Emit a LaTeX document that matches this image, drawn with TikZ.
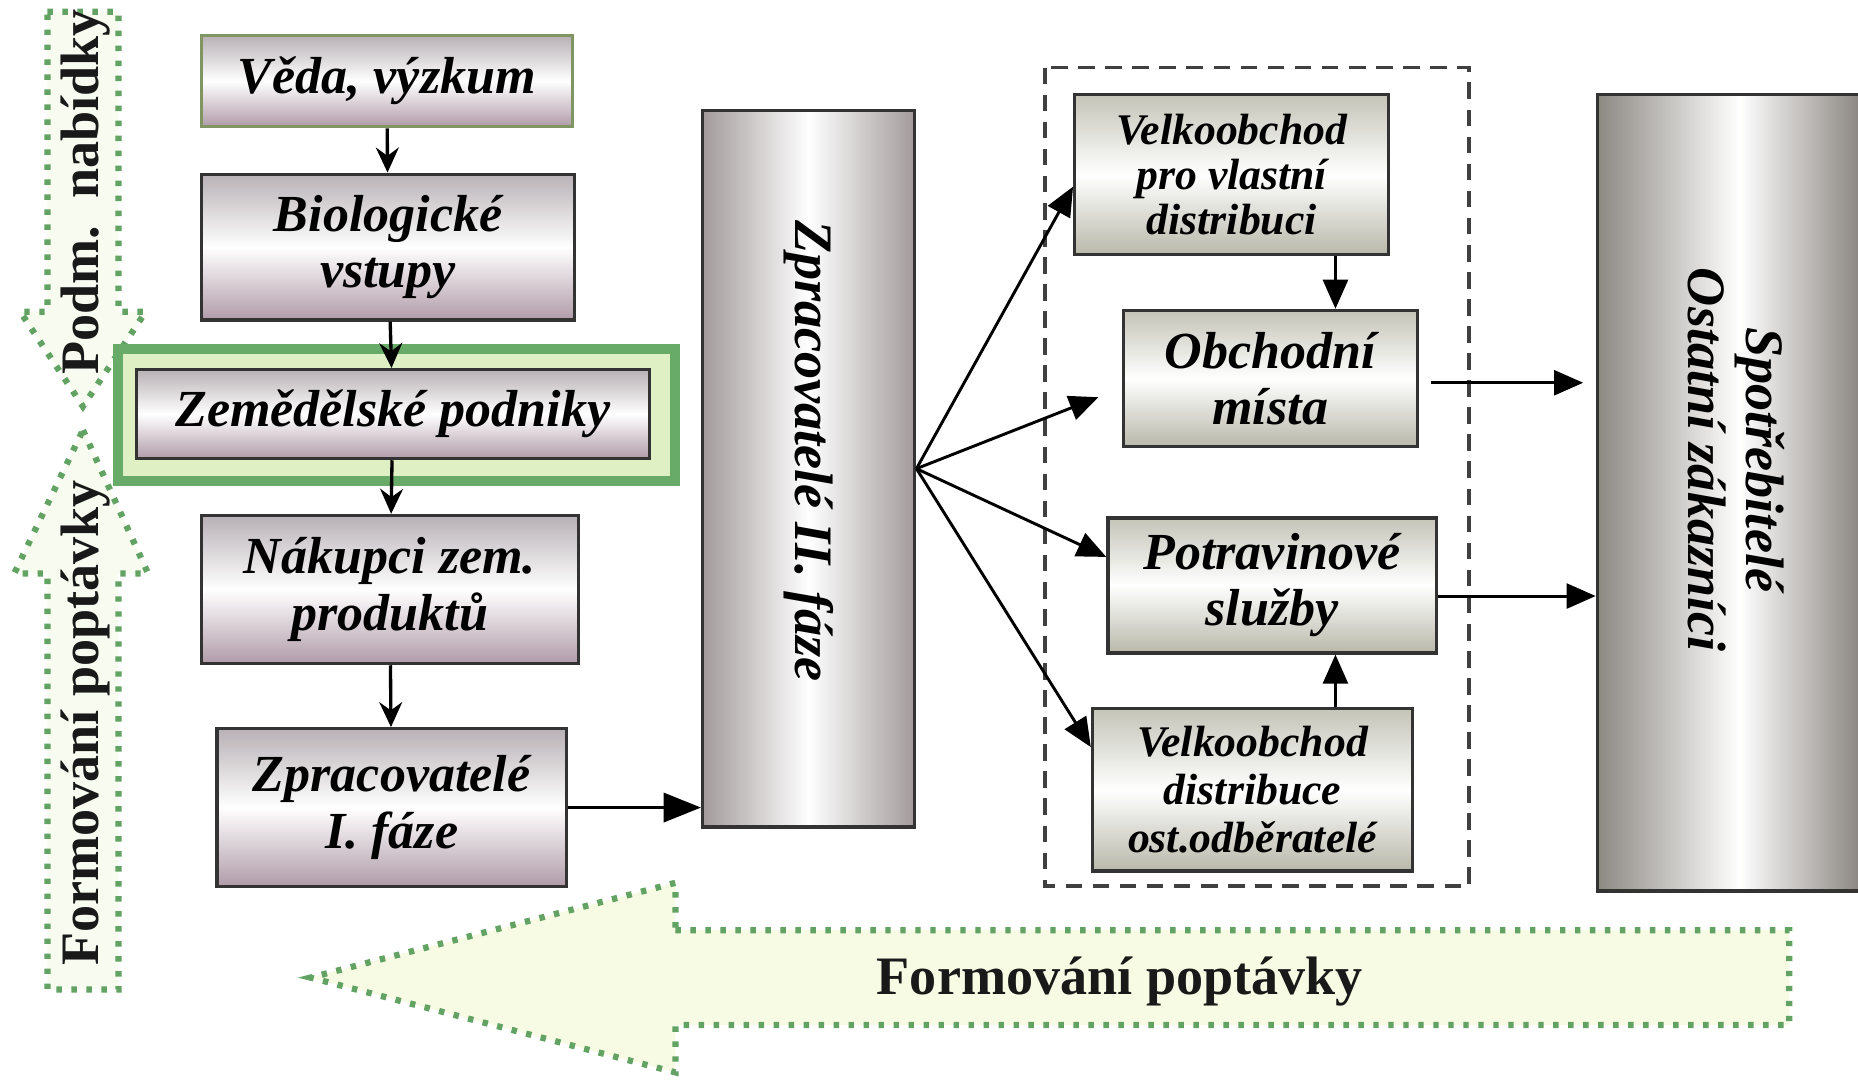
\documentclass[tikz,border=0pt]{standalone}
\usepackage{fontspec}
\setmainfont{Liberation Serif}
\usetikzlibrary{arrows.meta}
\definecolor{dotgreen}{RGB}{98,162,98}
\definecolor{palefill}{RGB}{247,251,228}
\definecolor{sidefill}{RGB}{248,252,240}
\definecolor{framegreen}{RGB}{104,170,104}
\definecolor{framefill}{RGB}{222,240,196}
\definecolor{vedaborder}{RGB}{128,150,98}
\definecolor{lgtop}{RGB}{184,177,181}
\definecolor{lgbot}{RGB}{176,155,168}
\definecolor{rgtop}{RGB}{196,196,184}
\definecolor{rgbot}{RGB}{184,184,170}
\definecolor{colgray}{RGB}{162,154,154}
\definecolor{spotleft}{RGB}{140,136,130}
\definecolor{spotright}{RGB}{118,112,106}
\begin{document}
\begin{tikzpicture}[>={Stealth[length=6pt,width=5.5pt,inset=2pt]},line width=0.8pt,
    lbox/.style={draw=black!80,inner sep=0pt,top color=lgtop,bottom color=lgbot,middle color=white,
        align=center,font=\bfseries\itshape\fontsize{12.5}{13.5}\selectfont},
    rbox/.style={lbox,top color=rgtop,bottom color=rgbot,middle color=white},
    tallbox/.style={draw=black!80,inner sep=0pt,left color=colgray,right color=colgray,middle color=white},
    dotarrow/.style={draw=dotgreen,fill=palefill,line width=1.5pt,dash pattern=on 1.3pt off 2.3pt},
    sidetext/.style={font=\bfseries\fontsize{13}{15}\selectfont,text=black!90},
    tri/.style={-{Triangle[length=7pt,width=6pt]},line width=0.7pt}]
    % \useasboundingbox(0,0)rectangle(15.68,-9.12);
    \useasboundingbox(0,0)rectangle(15.68,-9.12);
    % dotted arrows
    \draw[dotarrow,fill=sidefill](0.40,-0.10)--(1.00,-0.10)--(1.00,-2.63)--(1.23,-2.63)--(0.70,-3.43)--(0.17,-2.63)--(0.40,-2.63)--cycle;
    \draw[dotarrow,fill=sidefill](0.70,-3.63)--(1.25,-4.84)--(1.00,-4.84)--(1.00,-8.35)--(0.40,-8.35)--(0.40,-4.84)--(0.12,-4.84)--cycle;
    \node[rotate=90,sidetext] (podm) at (0.72,-1.62) {Podm.\enspace nabídky};
    \node[rotate=90,sidetext] (formleft) at (0.72,-6.10) {Formování poptávky};
    \draw[dotarrow](5.70,-7.85)--(15.10,-7.85)--(15.10,-8.65)--(5.70,-8.65)--(5.70,-9.05)--(2.62,-8.25)--(5.70,-7.45)--cycle;
    \node[sidetext] (formbottom) at (9.45,-8.28) {Formování poptávky};
    % left column
    \node[lbox,draw=vedaborder,minimum width=3.13cm,minimum height=0.77cm] (veda) at (3.265,-0.685) {Věda, výzkum};
    \node[lbox,minimum width=3.15cm,minimum height=1.23cm] (bio) at (3.275,-2.085) {Biologické\\vstupy};
    \node[draw=framegreen,line width=2.4pt,fill=framefill,minimum width=4.70cm,minimum height=1.11cm] (zemframe) at (3.345,-3.50) {};
    \node[lbox,minimum width=4.33cm,minimum height=0.75cm] (zem) at (3.315,-3.495) {Zemědělské podniky};
    \node[lbox,minimum width=3.18cm,minimum height=1.25cm] (nak) at (3.29,-4.975) {Nákupci zem.\\produktů};
    \node[lbox,minimum width=2.95cm,minimum height=1.33cm] (zpr1) at (3.305,-6.815) {Zpracovatelé\\I. fáze};
    \draw[->](veda)--(bio);
    \draw[->](bio)--(zem);
    \draw[->](zem)--(nak);
    \draw[->](nak)--(zpr1);
    % middle column
    \node[tallbox,minimum width=1.79cm,minimum height=6.05cm] (zpr2) at (6.825,-3.955) {};
    \node[rotate=-90,font=\bfseries\itshape\fontsize{13}{15}\selectfont] (zpr2text) at ([yshift=0.15cm]zpr2.center) {Zpracovatelé II. fáze};
    \draw[-{Triangle[length=9pt,width=7pt]}](zpr1.east)--(zpr1.east-|zpr2.west);
    % distribution
    \draw[densely dashed,line width=0.9pt,draw=black!75,dash pattern=on 4pt off 2.5pt](8.82,-0.57)rectangle(12.40,-7.48);
    \node[rbox,font=\bfseries\itshape\fontsize{10.5}{10.8}\selectfont,minimum width=2.65cm,minimum height=1.35cm] (vpv) at (10.395,-1.475) {Velkoobchod\\pro vlastní\\distribuci};
    \node[rbox,minimum width=2.48cm,minimum height=1.15cm] (obch) at (10.72,-3.195) {Obchodní\\místa};
    \node[rbox,minimum width=2.77cm,minimum height=1.14cm] (potr) at (10.735,-4.94) {Potravinové\\služby};
    \node[rbox,font=\bfseries\itshape\fontsize{10.5}{11.5}\selectfont,minimum width=2.70cm,minimum height=1.37cm] (vdist) at (10.57,-6.665) {Velkoobchod\\distribuce\\ost.odběratelé};
    \draw[tri](zpr2.east)--([yshift=-0.1cm]vpv.west);
    \draw[tri,shorten >=6pt](zpr2.east)--([yshift=-0.08cm]obch.west);
    \draw[tri](zpr2.east)--([yshift=0.24cm]potr.west);
    \draw[tri](zpr2.east)--([yshift=0.36cm]vdist.west);
    \draw[tri]([xshift=0.875cm]vpv.south)--([xshift=0.875cm]vpv.south|-obch.north);
    \draw[tri]([xshift=0.70cm]vdist.north)--([xshift=0.70cm]vdist.north|-potr.south);
    % consumers
    \node[draw=black!80,inner sep=0pt,left color=spotleft,right color=spotright,middle color=white,minimum width=2.40cm,minimum height=6.72cm] (spot) at (14.68,-4.16) {};
    \node[rotate=-90,align=center,font=\bfseries\itshape\fontsize{13}{14}\selectfont] (spottext) at (14.65,-3.88) {Spotřebitelé\\Ostatní zákazníci};
    \draw[tri,shorten <=3pt,shorten >=3pt]([yshift=-0.035cm]obch.east)--([yshift=-0.035cm]obch.east-|spot.west);
    \draw[tri]([yshift=-0.09cm]potr.east)--([yshift=-0.09cm]potr.east-|spot.west);
\end{tikzpicture}
\end{document}
